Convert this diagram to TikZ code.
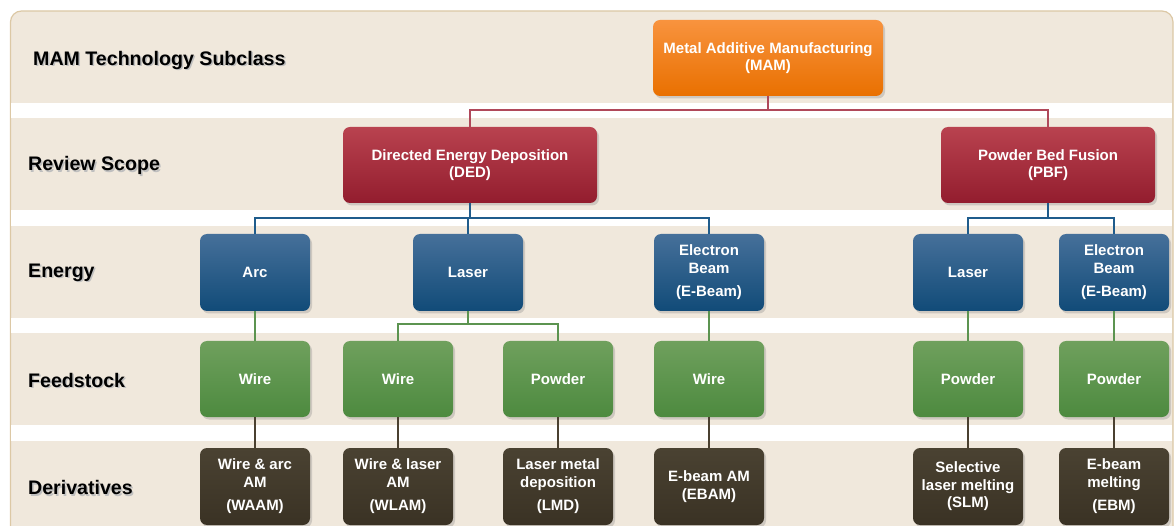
\documentclass[tikz,border=0pt]{standalone}
\usepackage{fontspec}
\setmainfont{Liberation Sans}
\usetikzlibrary{shadows}

\definecolor{bandfill}{HTML}{F0E8DC}
\definecolor{bandedge}{HTML}{DCC8A5}
\definecolor{orangetop}{HTML}{F8933E}
\definecolor{orangebot}{HTML}{E97000}
\definecolor{redtop}{HTML}{B9424F}
\definecolor{redbot}{HTML}{931D2E}
\definecolor{bluetop}{HTML}{46709A}
\definecolor{bluebot}{HTML}{114B78}
\definecolor{greentop}{HTML}{6FA05D}
\definecolor{greenbot}{HTML}{4D8A3F}
\definecolor{browntop}{HTML}{4A4232}
\definecolor{brownbot}{HTML}{3A3224}
\definecolor{redline}{HTML}{B0485A}
\definecolor{blueline}{HTML}{1F5C8C}
\definecolor{greenline}{HTML}{5C9450}
\definecolor{brownline}{HTML}{4A4030}

\newcommand{\shadowtext}[1]{\makebox[0pt][l]{\hspace{1.5pt}\raisebox{-1.5pt}{\textcolor{black!25}{#1}}}#1}

\tikzset{
  box/.style={rounded corners=7pt, minimum width=110pt, minimum height=77pt,
    text=white, font=\bfseries\fontsize{15}{17.5}\selectfont, align=center,
    inner sep=0pt,
    drop shadow={opacity=0.3, shadow xshift=2pt, shadow yshift=-2.5pt}},
  mambox/.style={box, top color=orangetop, bottom color=orangebot},
  scopebox/.style={box, top color=redtop, bottom color=redbot, minimum height=76pt},
  energybox/.style={box, top color=bluetop, bottom color=bluebot},
  feedbox/.style={box, top color=greentop, bottom color=greenbot, minimum height=76pt},
  derivbox/.style={box, top color=browntop, bottom color=brownbot},
  rowlabel/.style={anchor=west, inner sep=0pt, text=black,
    font=\bfseries\fontsize{19.6}{22}\selectfont},
  link/.style={line width=1.8pt},
}

\begin{document}
\begin{tikzpicture}[x=1pt, y=-1pt]
\useasboundingbox (0,0) rectangle (1175,526);

% framed background with white separators between the rows
\draw[draw=bandedge, fill=bandfill, line width=1.2pt, rounded corners=11pt]
  (10.5,11) rectangle (1173,560);
\foreach \ya/\yb in {103/118, 210/226, 318/333, 425/441}
  \fill[white] (11.1,\ya) rectangle (1172.4,\yb);

% row labels
\node[rowlabel] (lab1) at (33,61) {\shadowtext{MAM Technology Subclass}};
\node[rowlabel] (lab2) at (28,166.5) {\shadowtext{Review Scope}};
\node[rowlabel] (lab3) at (28,273.5) {\shadowtext{Energy}};
\node[rowlabel] (lab4) at (28,381) {\shadowtext{Feedstock}};
\node[rowlabel] (lab5) at (28,488.5) {\shadowtext{Derivatives}};

% top level
\node[mambox, minimum width=230pt, minimum height=76pt] (mam) at (768,58)
  {Metal Additive Manufacturing\\(MAM)};

% review scope
\node[scopebox, minimum width=254pt] (ded) at (470,165)
  {Directed Energy Deposition\\(DED)};
\node[scopebox, minimum width=214pt] (pbf) at (1048,165)
  {Powder Bed Fusion\\(PBF)};

% energy
\node[energybox] (arc)   at (255,272.5) {Arc};
\node[energybox] (lasd)  at (468,272.5) {Laser};
\node[energybox] (ebd)   at (709,272.5) {Electron\\Beam\\[6pt](E-Beam)};
\node[energybox] (lasp)  at (968,272.5) {Laser};
\node[energybox] (ebp)   at (1114,272.5) {Electron\\Beam\\[6pt](E-Beam)};

% feedstock
\node[feedbox] (wirea) at (255,379) {Wire};
\node[feedbox] (wireb) at (398,379) {Wire};
\node[feedbox] (powa)  at (558,379) {Powder};
\node[feedbox] (wirec) at (709,379) {Wire};
\node[feedbox] (powb)  at (968,379) {Powder};
\node[feedbox] (powc)  at (1114,379) {Powder};

% derivatives
\node[derivbox] (waam) at (255,486.5) {Wire \& arc\\AM\\[6pt](WAAM)};
\node[derivbox] (wlam) at (398,486.5) {Wire \& laser\\AM\\[6pt](WLAM)};
\node[derivbox] (lmd)  at (558,486.5) {Laser metal\\deposition\\[6pt](LMD)};
\node[derivbox] (ebam) at (709,486.5) {E-beam AM\\(EBAM)};
\node[derivbox] (slm)  at (968,486.5) {Selective\\laser melting\\(SLM)};
\node[derivbox] (ebm)  at (1114,486.5) {E-beam\\melting\\[6pt](EBM)};

% connectors: subclass -> scope
\draw[link, redline] (mam.south) -- ++(0,14) -| (ded.north);
\draw[link, redline] (mam.south) -- ++(0,14) -| (pbf.north);

% scope -> energy
\draw[link, blueline] (ded.south) -- ++(0,15) -| (arc.north);
\draw[link, blueline] (ded.south) -- ++(0,15) -| (lasd.north);
\draw[link, blueline] (ded.south) -- ++(0,15) -| (ebd.north);
\draw[link, blueline] (pbf.south) -- ++(0,15) -| (lasp.north);
\draw[link, blueline] (pbf.south) -- ++(0,15) -| (ebp.north);

% energy -> feedstock
\draw[link, greenline] (arc.south) -- (wirea.north);
\draw[link, greenline] (lasd.south) -- ++(0,13) -| (wireb.north);
\draw[link, greenline] (lasd.south) -- ++(0,13) -| (powa.north);
\draw[link, greenline] (ebd.south) -- (wirec.north);
\draw[link, greenline] (lasp.south) -- (powb.north);
\draw[link, greenline] (ebp.south) -- (powc.north);

% feedstock -> derivatives
\draw[link, brownline] (wirea.south) -- (waam.north);
\draw[link, brownline] (wireb.south) -- (wlam.north);
\draw[link, brownline] (powa.south) -- (lmd.north);
\draw[link, brownline] (wirec.south) -- (ebam.north);
\draw[link, brownline] (powb.south) -- (slm.north);
\draw[link, brownline] (powc.south) -- (ebm.north);
\end{tikzpicture}
\end{document}
